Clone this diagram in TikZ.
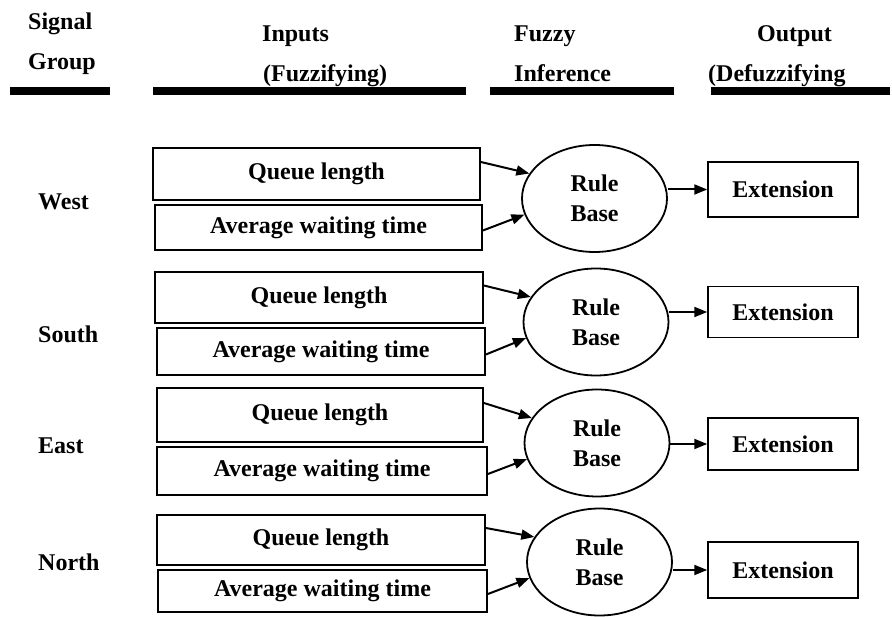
\documentclass[tikz,border=0pt]{standalone}
\usepackage{fontspec}
\setmainfont{Liberation Serif}
\usetikzlibrary{arrows.meta,calc,shapes.geometric}
\begin{document}
\begin{tikzpicture}[x=1pt,y=-1pt,
  every node/.style={font=\fontsize{24}{30}\selectfont\bfseries},
  inbox/.style={draw,line width=1.8pt,inner sep=0pt},
  rulebase/.style={draw,ellipse,line width=1.8pt,minimum width=145pt,minimum height=107pt,inner sep=0pt,align=center},
  extbox/.style={draw,line width=1.5pt,minimum width=150pt,inner sep=0pt},
  arr/.style={line width=2pt,-{Triangle[length=13pt,width=10pt]}},
  hdr/.style={anchor=base west,inner sep=0pt},
  dirlabel/.style={anchor=west,inner sep=0pt},
  hbar/.style={fill=black}]
\useasboundingbox (0,0) rectangle (892,617);

% header
\node[hdr] (h1a) at (28,30) {Signal};
\node[hdr] (h1b) at (28,70) {Group};
\node[hdr] (h2a) at (262,42) {Inputs};
\node[hdr] (h2b) at (263,82) {(Fuzzifying)};
\node[hdr] (h3a) at (514,42) {Fuzzy};
\node[hdr] (h3b) at (514,82) {Inference};
\node[hdr] (h4a) at (757,42) {Output};
\node[hdr] (h4b) at (708,82) {(Defuzzifying};
\fill[hbar] (10,87) rectangle (110,95);
\fill[hbar] (153,87) rectangle (466,95);
\fill[hbar] (490,87) rectangle (674,95);
\fill[hbar] (711,87) rectangle (890,95);

% direction labels
\node[dirlabel] (west) at (38,202) {West};
\node[dirlabel] (south) at (38,334) {South};
\node[dirlabel] (east) at (38,446) {East};
\node[dirlabel] (north) at (38,562) {North};

% row 1
\node[inbox,minimum width=327pt,minimum height=52pt] (q1) at (316.5,174) {Queue length};
\node[inbox,minimum width=327pt,minimum height=45pt] (a1) at (318.5,227.5) {Average waiting time};
\node[rulebase] (rb1) at (594.5,198.5) {Rule\\Base};
\node[extbox,minimum height=55pt] (e1) at (783,189.5) {Extension};
% row 2
\node[inbox,minimum width=328pt,minimum height=51pt] (q2) at (319,297.5) {Queue length};
\node[inbox,minimum width=328pt,minimum height=47pt] (a2) at (321,351.5) {Average waiting time};
\node[rulebase] (rb2) at (596,322) {Rule\\Base};
\node[extbox,minimum height=51pt] (e2) at (783,312) {Extension};
% row 3
\node[inbox,minimum width=326pt,minimum height=54pt] (q3) at (320,415) {Queue length};
\node[inbox,minimum width=330pt,minimum height=48pt] (a3) at (322,471) {Average waiting time};
\node[rulebase] (rb3) at (597,443) {Rule\\Base};
\node[extbox,minimum height=52pt] (e3) at (783,444) {Extension};
% row 4
\node[inbox,minimum width=328pt,minimum height=50pt] (q4) at (321,540) {Queue length};
\node[inbox,minimum width=329pt,minimum height=42pt] (a4) at (322.5,591) {Average waiting time};
\node[rulebase] (rb4) at (599.5,562) {Rule\\Base};
\node[extbox,minimum height=56pt] (e4) at (783,570) {Extension};

% connectors
\foreach \i in {1,2,3,4} {
  \draw[arr] ($(q\i.east)+(0,-12)$) -- (rb\i.159);
  \draw[arr] ($(a\i.east)+(0,3)$) -- (rb\i.193);
  \draw[arr] (rb\i.east |- e\i.west) -- (e\i.west);
}
\end{tikzpicture}
\end{document}
